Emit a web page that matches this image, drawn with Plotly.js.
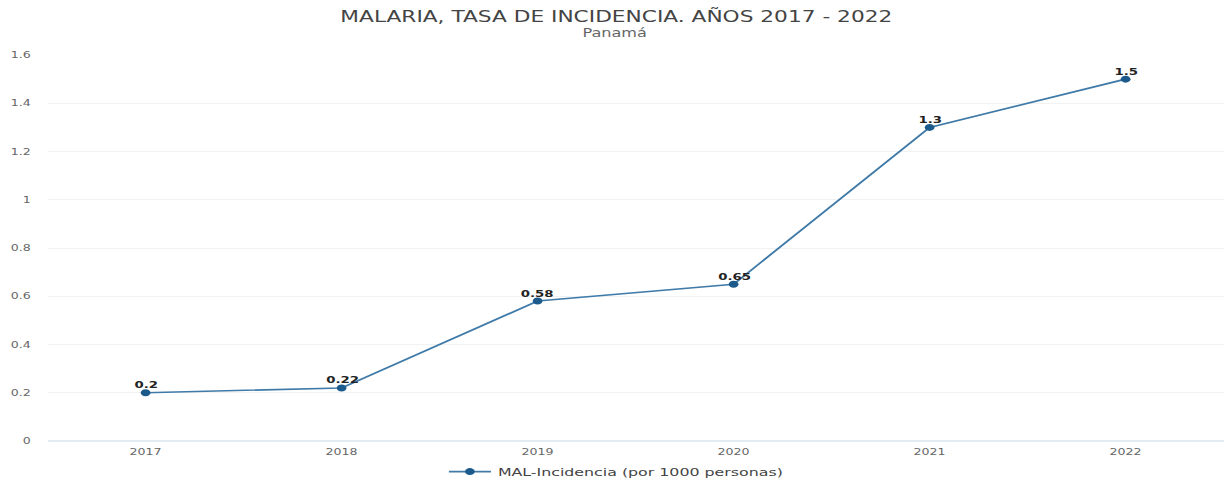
<!DOCTYPE html>
<html>
<head>
<meta charset="utf-8">
<script src="https://cdn.plot.ly/plotly-3.0.1.min.js"></script>
<style>
html,body{margin:0;padding:0;background:#fff;overflow:hidden;}
#wrap{width:1228px;height:480px;overflow:hidden;}
#chart{width:877px;height:480px;transform:scaleX(1.4);transform-origin:0 0;}
</style>
</head>
<body>
<div id="wrap"><div id="chart"></div></div>
<script>
const years = ['2017', '2018', '2019', '2020', '2021', '2022'];
const incidencia = [0.2, 0.22, 0.58, 0.65, 1.3, 1.5];
const labels = ['0.2', '0.22', '0.58', '0.65', '1.3', '1.5'];
const seriesName = 'MAL-Incidencia (por 1000 personas)';
const yTicks = [0, 0.2, 0.4, 0.6, 0.8, 1, 1.2, 1.4, 1.6];

const trace = {
  x: years,
  y: incidencia,
  name: seriesName,
  type: 'scatter',
  mode: 'lines+markers',
  line: {color: '#3f7aa8', width: 1.6},
  marker: {color: '#1c5a8c', size: 7},
  cliponaxis: false
};

// value labels: x as category index of each year on the category axis
const valueLabels = years.map((yr, i) => ({
  x: years.indexOf(yr), y: incidencia[i], xref: 'x', yref: 'y',
  text: '<b>' + labels[i] + '</b>', showarrow: false,
  yanchor: 'middle', xanchor: 'center', yshift: 8,
  font: {family: 'DejaVu Sans', size: 9.5, color: '#222'}
}));

const layout = {
  width: 877, height: 480,
  margin: {l: 34, r: 3, t: 55, b: 39},
  paper_bgcolor: '#fff', plot_bgcolor: '#fff',
  font: {family: 'DejaVu Sans', color: '#666'},
  title: {text: 'MALARIA, TASA DE INCIDENCIA. AÑOS 2017 - 2022', x: 0.502, xanchor: 'center', y: 0.966, yanchor: 'middle', font: {family: 'DejaVu Sans', size: 15.5, color: '#444'}},
  annotations: [{text: 'Panamá', xref: 'paper', yref: 'paper', x: 0.4825, y: 1.057, xanchor: 'center', yanchor: 'middle', showarrow: false, font: {family: 'DejaVu Sans', size: 11.5, color: '#666'}}].concat(valueLabels),
  xaxis: {type: 'category', range: [-0.5, 5.5], showgrid: false, zeroline: false, showline: false, ticks: '', tickfont: {size: 9, color: '#666'}, ticklabelstandoff: 4},
  yaxis: {range: [0, 1.6], tickvals: yTicks, ticktext: yTicks.map(String), showgrid: true, gridcolor: '#f2f2f2', zeroline: true, zerolinecolor: '#e2eaf2', zerolinewidth: 2, showline: false, tickfont: {size: 9, color: '#666'}, ticklabelstandoff: 11},
  showlegend: true,
  legend: {orientation: 'h', x: 0.4835, xanchor: 'center', xref: 'paper', yref: 'container', y: 0.0175, yanchor: 'middle', font: {size: 11.3, color: '#444'}}
};

Plotly.newPlot('chart', [trace], layout, {displayModeBar: false});
</script>
</body>
</html>
